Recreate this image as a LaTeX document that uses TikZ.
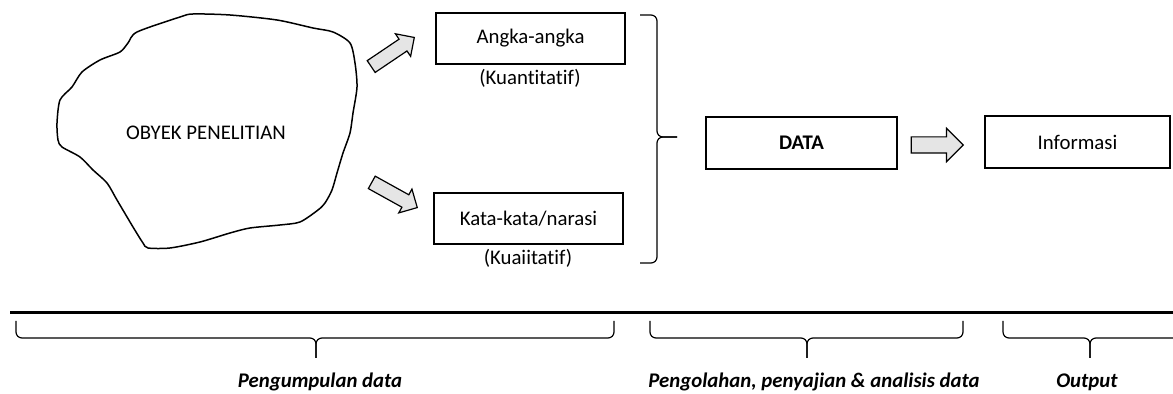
\documentclass[tikz,border=0pt]{standalone}
\usepackage{fontspec}
\setmainfont{Carlito}[Ligatures=NoCommon]
\usetikzlibrary{positioning,calc,shapes.arrows}

\begin{document}
\begin{tikzpicture}[x=0.5pt,y=-0.5pt,
  font=\fontsize{10.4}{12.5}\selectfont,
  kotak/.style={draw, line width=0.6pt, inner sep=0pt},
  panah/.style={single arrow, draw, fill=gray!20, line width=0.6pt, inner xsep=0pt,
    minimum height=26pt},
  kurung/.style={line width=0.6pt, rounded corners=3pt}]
\useasboundingbox (0,0) rectangle (1173,394);

% Obyek penelitian
\draw[line width=0.75pt] plot[smooth cycle, tension=0.45] coordinates {
  (137,32) (180,17) (193,14) (230,15) (277,20) (313,28) (333,32) (350,43)
  (355,63) (357,87) (353,113) (350,133) (343,153) (337,173) (332,190)
  (325,203) (318,210) (300,222) (280,225) (250,228) (230,233) (200,242)
  (170,248) (148,248) (143,243) (133,227) (117,200) (107,183) (93,170)
  (80,157) (62,147) (58,140) (57,123) (60,100) (72,87) (82,72) (100,60)
  (120,52) (128,43)};
\node (obyek) at (206,133) {OBYEK PENELITIAN};

% Jenis data
\node[kotak, minimum width=94.5pt, minimum height=25.5pt] (angka) at (530.5,38.5) {Angka-angka};
\node (kuanti) at (530,78) {(Kuantitatif)};
\node[kotak, minimum width=94.5pt, minimum height=25.5pt] (kata) at (528.5,218.5) {Kata-kata/narasi};
\node (kuali) at (528,258) {(Kuaiitatif)};

\node[panah, rotate=34, inner ysep=3.25pt, single arrow head extend=3.25pt, anchor=tip] (p1) at (415,37) {};
\node[panah, rotate=-29, inner ysep=3.25pt, single arrow head extend=3.25pt, anchor=tip] (p2) at (418,208) {};

% Kurung kanan
\draw[kurung] (640,15) -- (657,15) -- (657,137) -- (677,137);
\draw[kurung] (640,263) -- (657,263) -- (657,137) -- (677,137);

% Data dan informasi
\node[kotak, minimum width=95.5pt, minimum height=26pt] (data) at (801.5,143) {\textbf{DATA}};
\node[kotak, minimum width=92.5pt, minimum height=26pt] (info) at (1077.5,142) {Informasi};
\node[panah, inner ysep=3.75pt, single arrow head extend=4.25pt, anchor=tip] (p3) at (964,145) {};

% Tahapan
\draw[line width=1.5pt] (10,313) -- (1173,313);
\draw[kurung] (16,321) -- (16,338) -- (316,338) -- (316,358);
\draw[kurung] (614,321) -- (614,338) -- (316,338) -- (316,358);
\draw[kurung] (650,321) -- (650,338) -- (807,338) -- (807,358);
\draw[kurung] (963,321) -- (963,338) -- (807,338) -- (807,358);
\draw[kurung] (1003,321) -- (1003,338) -- (1090,338) -- (1090,358);
\draw[kurung] (1173,338) -- (1090,338) -- (1090,358);

\node (kumpul) at (320,382) {\textbf{\textit{Pengumpulan data}}};
\node (olah) at (814,382) {\textbf{\textit{Pengolahan, penyajian \& analisis data}}};
\node (keluar) at (1087,382) {\textbf{\textit{Output}}};
\end{tikzpicture}
\end{document}
